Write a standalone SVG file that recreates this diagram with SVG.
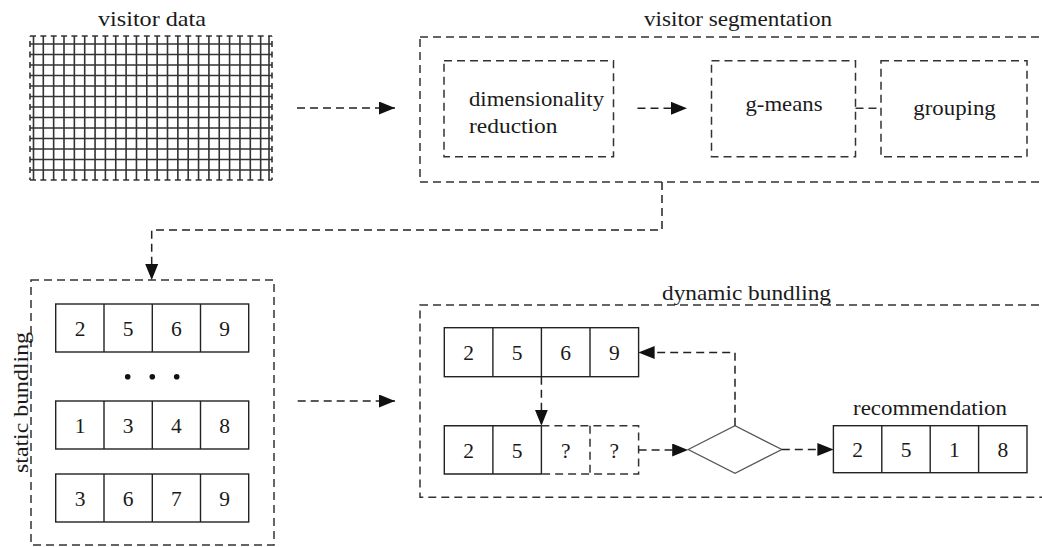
<svg xmlns="http://www.w3.org/2000/svg" width="1042" height="547" viewBox="0 0 1042 547">
<style>
text{font-family:'Liberation Serif','Times New Roman',serif;font-size:21.5px;fill:#1a1a1a;}
.c{text-anchor:middle;}
.d{fill:none;stroke:#333;stroke-width:1.5;stroke-dasharray:8 5;}
.s{fill:none;stroke:#222;stroke-width:1.4;}
.g{stroke:#333;stroke-width:1.6;fill:none;}
.a{fill:none;stroke:#222;stroke-width:1.5;stroke-dasharray:8 5;marker-end:url(#arr);}
</style>
<defs>
<marker id="arr" markerUnits="userSpaceOnUse" viewBox="0 0 16 13" refX="16" refY="6.5" markerWidth="16" markerHeight="13" orient="auto">
<path d="M0,0 L16,6.5 L0,13 Z" fill="#111"/>
</marker>
</defs>
<rect width="1042" height="547" fill="#fff"/>

<g id="visitor-data">
<text class="c" x="152" y="26" textLength="108" lengthAdjust="spacingAndGlyphs">visitor data</text>
<g class="g">
<path d="M33.5,36V180M43.3,36V180M53.65,36V180M64,36V180M74.35,36V180M84.7,36V180M95.05,36V180M105.4,36V180M115.75,36V180M126.1,36V180M136.45,36V180M146.8,36V180M157.15,36V180M167.5,36V180M177.85,36V180M188.2,36V180M198.55,36V180M208.9,36V180M219.25,36V180M229.6,36V180M239.95,36V180M250.3,36V180M260.65,36V180M269,36V180"/>
<path d="M30,44H272M30,54.5H272M30,65H272M30,75.5H272M30,86H272M30,96.5H272M30,107H272M30,117.5H272M30,128H272M30,138.5H272M30,149H272M30,159.5H272M30,170H272"/>
</g>
<g class="g" stroke-dasharray="6 4.35">
<path d="M30,36H272M30,180H272"/>
</g>
<g class="g" stroke-dasharray="6 4.5" stroke-dashoffset="-5">
<path d="M30,36V180M272,36V180"/>
</g>
</g>

<g id="visitor-segmentation">
<text class="c" x="738" y="26" textLength="188" lengthAdjust="spacingAndGlyphs">visitor segmentation</text>
<rect class="d" x="420" y="37" width="640" height="145"/>
</g>
<g id="dimensionality-reduction">
<rect class="d" x="444" y="60.7" width="169.5" height="96"/>
<text x="469" y="106" textLength="135" lengthAdjust="spacingAndGlyphs">dimensionality</text>
<text x="469" y="133" textLength="88.5" lengthAdjust="spacingAndGlyphs">reduction</text>
</g>
<g id="g-means">
<rect class="d" x="711.5" y="60.7" width="144" height="96"/>
<text class="c" x="784" y="111" textLength="77" lengthAdjust="spacingAndGlyphs">g-means</text>
</g>
<g id="grouping">
<rect class="d" x="881" y="60.7" width="146" height="96"/>
<text class="c" x="954.5" y="115" textLength="82.5" lengthAdjust="spacingAndGlyphs">grouping</text>
</g>

<g id="static-bundling">
<rect class="d" x="31" y="280" width="243" height="265"/>
<text class="c" transform="translate(28,402.5) rotate(-90)" x="0" y="0" textLength="141" lengthAdjust="spacingAndGlyphs">static bundling</text>
<g class="s">
<rect x="55.7" y="304" width="193" height="48"/>
<path d="M104,304V352M152.3,304V352M200.5,304V352"/>
<rect x="55.7" y="401" width="193" height="48"/>
<path d="M104,401V449M152.3,401V449M200.5,401V449"/>
<rect x="55.7" y="474" width="193" height="48"/>
<path d="M104,474V522M152.3,474V522M200.5,474V522"/>
</g>
<text class="c" x="80" y="335.5">2</text><text class="c" x="128" y="335.5">5</text><text class="c" x="176.4" y="335.5">6</text><text class="c" x="224.6" y="335.5">9</text>
<text class="c" x="80" y="432.5">1</text><text class="c" x="128" y="432.5">3</text><text class="c" x="176.4" y="432.5">4</text><text class="c" x="224.6" y="432.5">8</text>
<text class="c" x="80" y="505.5">3</text><text class="c" x="128" y="505.5">6</text><text class="c" x="176.4" y="505.5">7</text><text class="c" x="224.6" y="505.5">9</text>
<g fill="#111">
<circle cx="127.7" cy="376.7" r="2.8"/><circle cx="152.3" cy="376.7" r="2.8"/><circle cx="176.7" cy="376.7" r="2.8"/>
</g>
</g>

<g id="dynamic-bundling">
<rect class="d" x="420" y="305" width="640" height="192.3"/>
<text class="c" x="746.5" y="300" textLength="169" lengthAdjust="spacingAndGlyphs">dynamic bundling</text>
</g>
<g id="bundle-current">
<g class="s">
<rect x="444.3" y="327.7" width="194.3" height="49"/>
<path d="M492.9,327.7V376.7M541.4,327.7V376.7M590,327.7V376.7"/>
</g>
<text class="c" x="468.6" y="359.5">2</text><text class="c" x="517.2" y="359.5">5</text><text class="c" x="565.7" y="359.5">6</text><text class="c" x="614.3" y="359.5">9</text>
</g>
<g id="bundle-partial">
<path class="s" d="M541.4,425.7H444.3V474H541.4V425.7M492.9,425.7V474"/>
<path class="d" d="M541.4,425.7H638.6V474H541.4M590,425.7V474"/>
<text class="c" x="468.6" y="457.5">2</text><text class="c" x="517.2" y="457.5">5</text><text class="c" x="565.7" y="457.5">?</text><text class="c" x="614.3" y="457.5">?</text>
</g>
<g id="decision">
<polygon points="688.2,449.5 735,425.7 781.8,449.5 735,473.3" fill="#fff" stroke="#555" stroke-width="1.3"/>
</g>
<g id="recommendation">
<text class="c" x="930" y="415" textLength="154" lengthAdjust="spacingAndGlyphs">recommendation</text>
<g class="s">
<rect x="833.4" y="425.7" width="193.6" height="47"/>
<path d="M881.8,425.7V472.7M930.2,425.7V472.7M978.6,425.7V472.7"/>
</g>
<text class="c" x="857.6" y="456.5">2</text><text class="c" x="906" y="456.5">5</text><text class="c" x="954.4" y="456.5">1</text><text class="c" x="1002.8" y="456.5">8</text>
</g>

<g id="connectors">
<path class="a" d="M297,108H395"/>
<path class="a" d="M637.5,108.3H687"/>
<path class="d" d="M855.5,108.3H881"/>
<path class="a" d="M662,182V230H151.7V280"/>
<path class="a" d="M297.7,401H395"/>
<path class="a" d="M541.4,376.7V425.7"/>
<path class="a" d="M638.6,450H688.2"/>
<path class="a" d="M781.8,449.5H833.4"/>
<path class="a" d="M735,425.7V352.5H638.6"/>
</g>
</svg>
